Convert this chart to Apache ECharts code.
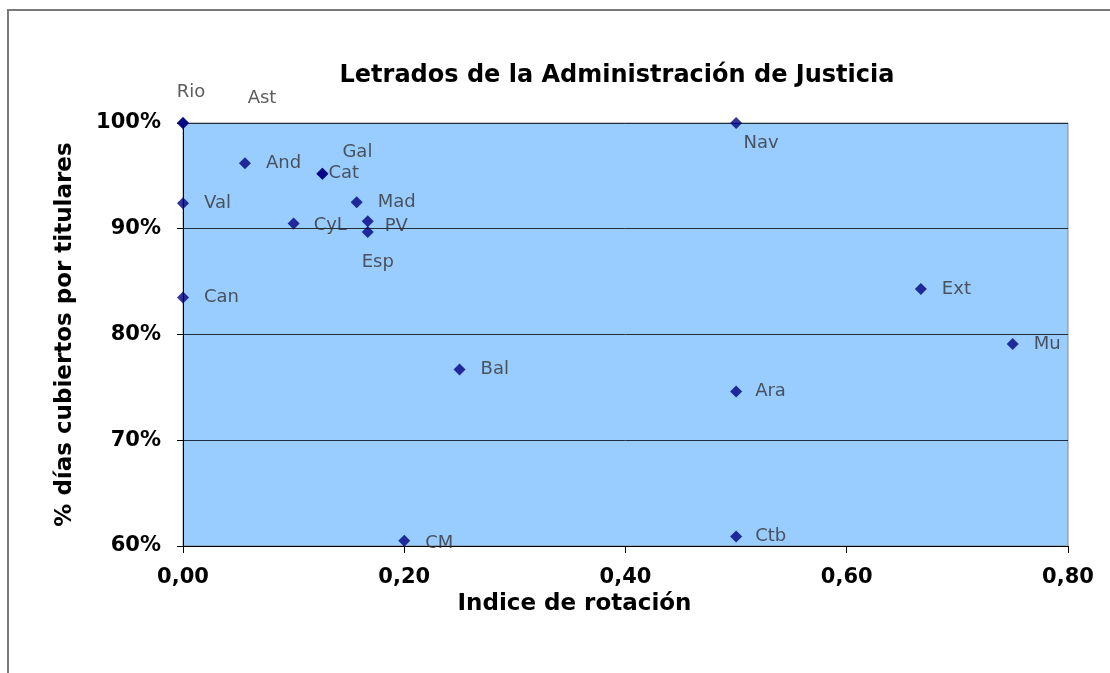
<!DOCTYPE html>
<html>
<head>
<meta charset="utf-8">
<script src="https://cdn.jsdelivr.net/npm/echarts@6/dist/echarts.min.js"></script>
<style>
html,body{margin:0;padding:0;background:#fff;}
#c{width:1110px;height:673px;}
</style>
</head>
<body>
<div id="c"></div>
<script>
// ---- data ----
const regions = ['Rio','Ast','And','Gal','Cat','Val','Mad','CyL','PV','Esp','Can','Nav','Ext','Mu','Bal','Ara','CM','Ctb'];
const rotationIndex = [0.00,0.00,0.056,0.126,0.126,0.00,0.157,0.100,0.167,0.167,0.00,0.50,0.667,0.75,0.25,0.50,0.20,0.50];
const coveredDays = [1.00,1.00,0.962,0.952,0.952,0.924,0.925,0.905,0.907,0.897,0.835,1.00,0.843,0.791,0.767,0.746,0.605,0.609];
const yTicks = ['60%','70%','80%','90%','100%'];
const xTicks = ['0,00','0,20','0,40','0,60','0,80'];
const titleText = 'Letrados de la Administración de Justicia';
const xName = 'Indice de rotación';
const yName = '% días cubiertos por titulares';

// ---- label placement (style only) ----
const labelStyle = {
  Rio: {position:'inside', offset:[8,-31]},
  Ast: {position:'inside', offset:[79,-25]},
  Gal: {position:'inside', offset:[35,-21]},
  Esp: {position:'inside', offset:[10,30]},
  Nav: {position:'inside', offset:[25,20]},
  Cat: {position:'right', distance:0},
  PV:  {position:'right', distance:11, offset:[0,5]},
  CyL: {position:'right', distance:14, offset:[0,2]},
  CM:  {position:'right', distance:15, offset:[0,3]},
  Ara: {position:'right', distance:13},
  Ctb: {position:'right', distance:13}
};

const data = regions.map((n,i)=>{
  const ls = labelStyle[n] || {position:'right', distance:15};
  return {name:n, value:[rotationIndex[i], coveredDays[i]], label:Object.assign({show:true}, ls)};
});

const chart = echarts.init(document.getElementById('c'));
const font = 'DejaVu Sans, Verdana, sans-serif';
chart.setOption({
  backgroundColor:'#ffffff',
  animation:false,
  graphic:[{type:'rect', shape:{x:8,y:10,width:1200,height:700}, style:{fill:'none', stroke:'#7a7a7a', lineWidth:2}, z:-1}],
  title:{
    text:titleText, left:612, top:59, textAlign:'center',
    textStyle:{fontFamily:font, fontWeight:'bold', fontSize:24, color:'#000'}
  },
  grid:{left:183, right:42, top:123, bottom:127, show:true, backgroundColor:'#99CCFF', borderColor:'#8a8a8a', borderWidth:1},
  xAxis:{
    type:'value', min:0, max:0.8, interval:0.2,
    name:xName, nameLocation:'middle', nameGap:47,
    nameTextStyle:{fontFamily:font, fontWeight:'bold', fontSize:23, color:'#000', padding:[0,102,0,0]},
    axisLine:{show:true, onZero:false, lineStyle:{color:'#000', width:1}},
    axisTick:{show:true, length:7, lineStyle:{color:'#000'}},
    splitLine:{show:false},
    axisLabel:{margin:21, fontFamily:font, fontWeight:'bold', fontSize:21, color:'#000',
      formatter:(v)=>xTicks[Math.round(v/0.2)]}
  },
  yAxis:{
    type:'value', min:0.6, max:1.0, interval:0.1,
    name:yName, nameLocation:'middle', nameGap:106, nameRotate:90,
    nameTextStyle:{fontFamily:font, fontWeight:'bold', fontSize:23, color:'#000'},
    axisLine:{show:true, onZero:false, lineStyle:{color:'#000', width:1}},
    axisTick:{show:true, length:6, lineStyle:{color:'#000'}},
    splitLine:{show:true, lineStyle:{color:'#1f2f3f', width:1}},
    axisLabel:{margin:22, fontFamily:font, fontWeight:'bold', fontSize:21, color:'#000',
      formatter:(v)=>yTicks[Math.round((v-0.6)/0.1)]}
  },
  series:[{
    type:'scatter', symbol:'diamond', symbolSize:12, clip:false,
    itemStyle:{color:'#000080'},
    label:{show:true, formatter:'{b}', fontFamily:font, fontSize:18, color:'#333'},
    data:data
  }]
});
</script>
</body>
</html>
